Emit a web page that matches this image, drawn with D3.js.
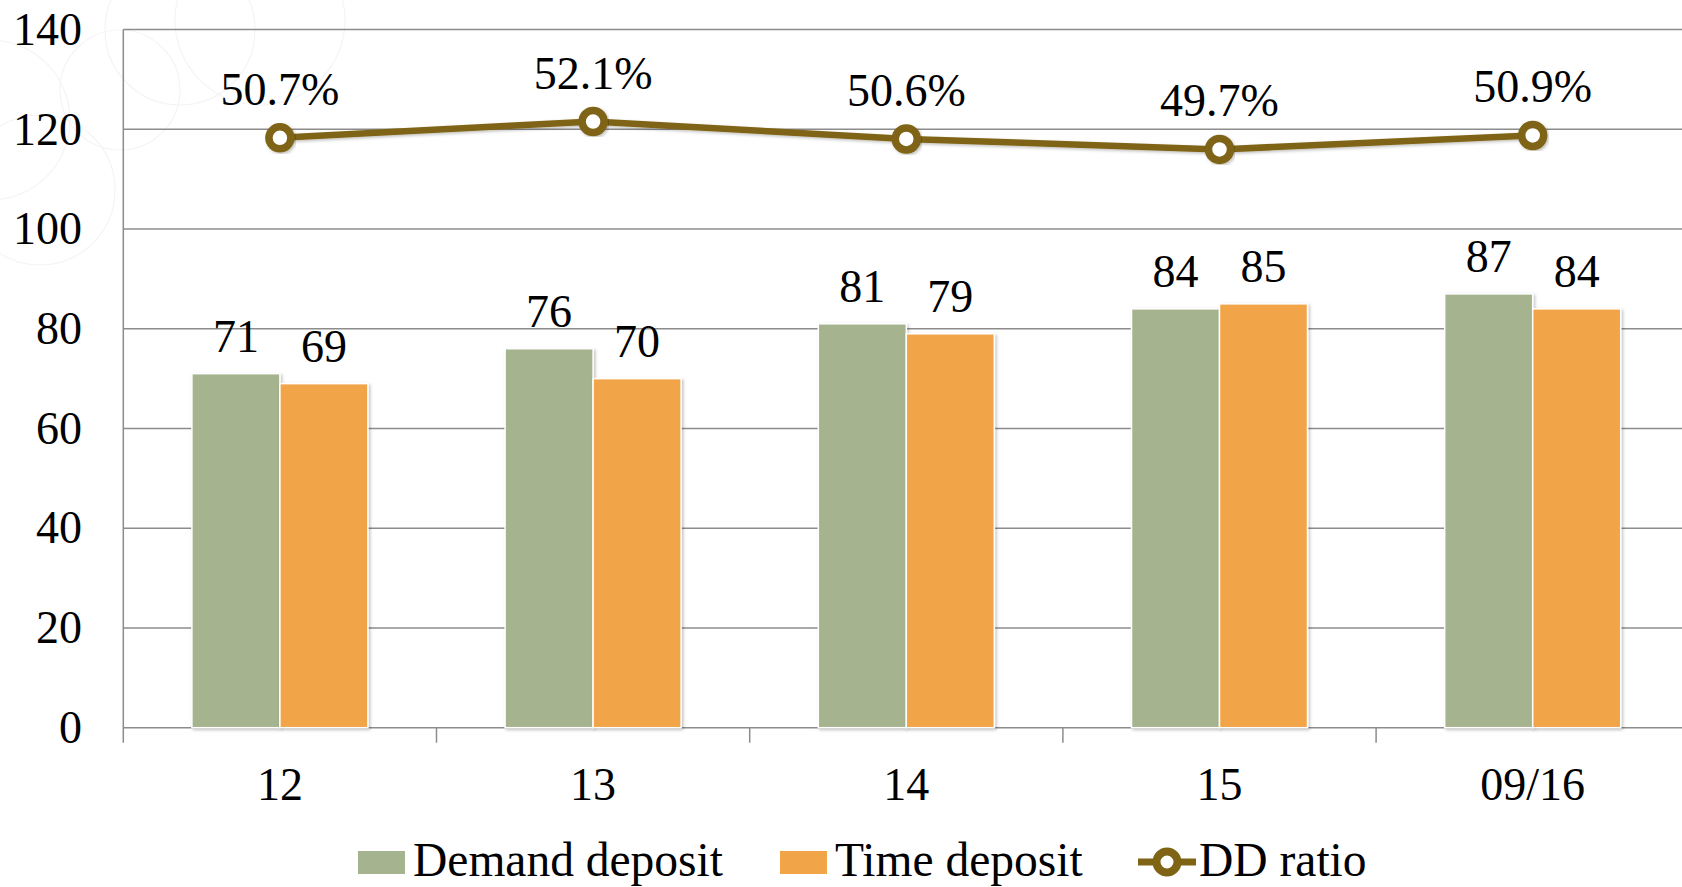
<!DOCTYPE html>
<html>
<head>
<meta charset="utf-8">
<script src="https://cdn.jsdelivr.net/npm/d3@7"></script>
<style>
	html, body { margin: 0; padding: 0; background: #ffffff; }
	svg { display: block; }
	text { font-family: "Liberation Serif", "Times New Roman", serif; fill: #000; }
</style>
</head>
<body>
<div class="chart"></div>
<script>
// data
const categories = ["12", "13", "14", "15", "09/16"];
const demand_deposit = [71, 76, 81, 84, 87];
const time_deposit = [69, 70, 79, 85, 84];
const dd_ratio = [50.7, 52.1, 50.6, 49.7, 50.9]; // %, hidden right axis 0-60
const y_ticks = [0, 20, 40, 60, 80, 100, 120, 140];

const width = 1682;
const height = 887;
const plot_left = 123.3;
const plot_top = 29.6;
const plot_bottom = 727.7;
const cat_width = 313.2;
const bar_width = 88;
const font_size = 46;
const legend_font_size = 47.5;

const green = "#a6b38f";
const orange = "#f2a449";
const brown = "#7f6415";
const grid_color = "#8c8c8c";

let svg = d3.select(".chart").append("svg")
	.attr("width", width)
	.attr("height", height);

// soft shadow like the office chart
let defs = svg.append("defs");
let shadow = defs.append("filter")
	.attr("id", "shadow")
	.attr("x", "-20%").attr("y", "-20%")
	.attr("width", "140%").attr("height", "140%");
shadow.append("feDropShadow")
	.attr("dx", 1.5).attr("dy", 1.5)
	.attr("stdDeviation", 1.5)
	.attr("flood-color", "#000")
	.attr("flood-opacity", 0.25);

// faint decoration in the top left corner of the slide
let deco = svg.append("g")
	.attr("fill", "none")
	.attr("stroke", "#f4f4f4")
	.attr("stroke-width", 1.2);
[[180, 30, 75], [260, 20, 85], [40, 190, 75], [-10, 120, 80], [120, 90, 60]].forEach(function(c) {
	deco.append("circle").attr("cx", c[0]).attr("cy", c[1]).attr("r", c[2]);
});

//------------------------------------------------
// scales
let x = d3.scaleBand()
	.domain(categories)
	.range([plot_left, plot_left + cat_width * categories.length]);

let y = d3.scaleLinear()
	.domain([0, 140])
	.range([plot_bottom, plot_top]);

let y_ratio = d3.scaleLinear() // secondary axis, not drawn
	.domain([0, 60])
	.range([plot_bottom, plot_top]);

//------------------------------------------------
// grid lines + y labels
let grid = svg.append("g");
grid.selectAll("line")
	.data(y_ticks)
	.enter().append("line")
	.attr("x1", plot_left)
	.attr("x2", width)
	.attr("y1", function(d) { return y(d); })
	.attr("y2", function(d) { return y(d); })
	.attr("stroke", grid_color)
	.attr("stroke-width", 1.5);

svg.append("g").selectAll("text")
	.data(y_ticks)
	.enter().append("text")
	.attr("x", 82)
	.attr("y", function(d) { return y(d); })
	.attr("dy", "0.33em")
	.attr("text-anchor", "end")
	.style("font-size", font_size + "px")
	.text(function(d) { return d; });

// left axis line
svg.append("line")
	.attr("x1", plot_left).attr("x2", plot_left)
	.attr("y1", plot_top).attr("y2", plot_bottom + 15)
	.attr("stroke", grid_color)
	.attr("stroke-width", 1.5);

// x axis tick marks between the categories
svg.append("g").selectAll("line")
	.data(categories.slice(1))
	.enter().append("line")
	.attr("x1", function(d) { return x(d); })
	.attr("x2", function(d) { return x(d); })
	.attr("y1", plot_bottom)
	.attr("y2", plot_bottom + 15)
	.attr("stroke", grid_color)
	.attr("stroke-width", 1.5);

svg.append("g").selectAll("text")
	.data(categories)
	.enter().append("text")
	.attr("x", function(d) { return x(d) + x.bandwidth() / 2; })
	.attr("y", 800)
	.attr("text-anchor", "middle")
	.style("font-size", font_size + "px")
	.text(function(d) { return d; });

//------------------------------------------------
// bars
let series = [
	{ name: "Demand deposit", values: demand_deposit, color: green, offset: -bar_width },
	{ name: "Time deposit", values: time_deposit, color: orange, offset: 0 }
];

series.forEach(function(s) {
	let g = svg.append("g");
	g.selectAll("rect")
		.data(s.values)
		.enter().append("rect")
		.attr("x", function(d, i) { return x(categories[i]) + x.bandwidth() / 2 + s.offset; })
		.attr("y", function(d) { return y(d); })
		.attr("width", bar_width)
		.attr("height", function(d) { return y(0) - y(d); })
		.attr("fill", s.color)
		.attr("stroke", "#ffffff")
		.attr("stroke-width", 1.5)
		.attr("filter", "url(#shadow)");
	g.selectAll("text")
		.data(s.values)
		.enter().append("text")
		.attr("x", function(d, i) { return x(categories[i]) + x.bandwidth() / 2 + s.offset + bar_width / 2; })
		.attr("y", function(d) { return y(d) - 22; })
		.attr("text-anchor", "middle")
		.style("font-size", font_size + "px")
		.text(function(d) { return d; });
});

//------------------------------------------------
// DD ratio line
let line = d3.line()
	.x(function(d, i) { return x(categories[i]) + x.bandwidth() / 2; })
	.y(function(d) { return y_ratio(d); });

let ratio_g = svg.append("g");
ratio_g.append("path")
	.datum(dd_ratio)
	.attr("d", line)
	.attr("fill", "none")
	.attr("stroke", brown)
	.attr("stroke-width", 6.5)
	.attr("filter", "url(#shadow)");

ratio_g.selectAll("circle")
	.data(dd_ratio)
	.enter().append("circle")
	.attr("cx", function(d, i) { return x(categories[i]) + x.bandwidth() / 2; })
	.attr("cy", function(d) { return y_ratio(d); })
	.attr("r", 11)
	.attr("fill", "#ffffff")
	.attr("stroke", brown)
	.attr("stroke-width", 7.5)
	.attr("filter", "url(#shadow)");

ratio_g.selectAll("text")
	.data(dd_ratio)
	.enter().append("text")
	.attr("x", function(d, i) { return x(categories[i]) + x.bandwidth() / 2; })
	.attr("y", function(d) { return y_ratio(d) - 33; })
	.attr("text-anchor", "middle")
	.style("font-size", font_size + "px")
	.text(function(d) { return d.toFixed(1) + "%"; });

//------------------------------------------------
// legend
let legend = svg.append("g");
let legend_items = [
	{ name: "Demand deposit", color: green, x: 358, type: "rect" },
	{ name: "Time deposit", color: orange, x: 780, type: "rect" },
	{ name: "DD ratio", color: brown, x: 1138, type: "line" }
];

legend_items.forEach(function(it) {
	if (it.type == "rect") {
		legend.append("rect")
			.attr("x", it.x).attr("y", 851)
			.attr("width", 47).attr("height", 23)
			.attr("fill", it.color);
		legend.append("text")
			.attr("x", it.x + 55).attr("y", 876)
			.style("font-size", legend_font_size + "px")
			.text(it.name);
	} else {
		legend.append("line")
			.attr("x1", it.x).attr("x2", it.x + 58)
			.attr("y1", 862).attr("y2", 862)
			.attr("stroke", it.color)
			.attr("stroke-width", 7);
		legend.append("circle")
			.attr("cx", it.x + 29).attr("cy", 862)
			.attr("r", 10.5)
			.attr("fill", "#ffffff")
			.attr("stroke", it.color)
			.attr("stroke-width", 8);
		legend.append("text")
			.attr("x", it.x + 61).attr("y", 876)
			.style("font-size", legend_font_size + "px")
			.text(it.name);
	}
});
</script>
</body>
</html>
